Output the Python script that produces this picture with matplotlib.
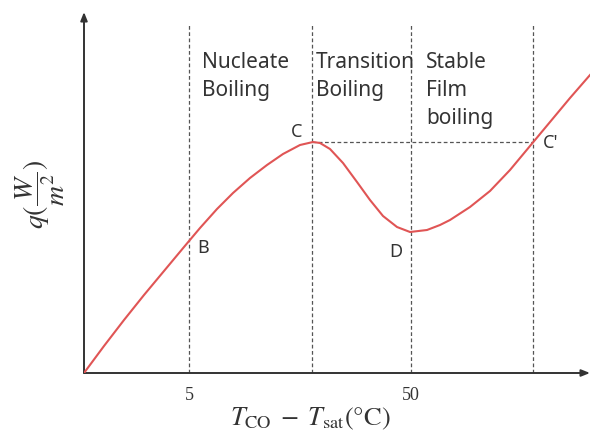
import numpy as np
import matplotlib
matplotlib.use('Agg')
import matplotlib.pyplot as plt

# Boiling curve (schematic), coordinates in plot units
curve_x = [0, 20, 40, 60, 80, 100, 116, 133, 149, 166, 183, 199, 216, 229, 236, 246,
           259, 273, 286, 299, 313, 326, 343, 356, 366, 386, 406, 426, 446, 466, 486, 506]
curve_y = [0, 27, 53, 78, 102, 126, 145, 164, 180, 195, 208, 219, 228, 231, 230, 224,
           210, 191, 173, 157, 146, 141, 143, 148, 153, 166, 182, 203, 227, 251, 275, 298]

# Region boundaries and the C-C' level
bounds_x = [105, 228, 327, 449]
c_level = 231

tick_pos = [105, 327]
tick_labels = ['5', '50']

regions = ['Nucleate\nBoiling', 'Transition\nBoiling', 'Stable\nFilm\nboiling']
region_x = [118, 232, 342]

points = ['B', 'C', 'D', "C'"]
points_xy = [(119, 125), (213, 241), (312, 121), (467, 230)]

plt.rcParams['font.family'] = ['Noto Sans', 'DejaVu Sans']
plt.rcParams['mathtext.fontset'] = 'stix'

fig = plt.figure(figsize=(5.9, 4.47), dpi=100)
ax = fig.add_axes([84 / 590, 74 / 447, 506 / 590, 361 / 447])
ax.set_xlim(0, 506)
ax.set_ylim(0, 361)
for s in ax.spines.values():
    s.set_visible(False)

dark = '#333333'
grey = '#555555'

# axes with arrow heads
ax.annotate('', xy=(0, 361), xytext=(0, 0), annotation_clip=False,
            arrowprops=dict(arrowstyle='-|>,head_length=0.5,head_width=0.2', color=dark, lw=1.4,
                            shrinkA=0, shrinkB=0))
ax.annotate('', xy=(506, 0), xytext=(0, 0), annotation_clip=False,
            arrowprops=dict(arrowstyle='-|>,head_length=0.5,head_width=0.2', color=dark, lw=1.4,
                            shrinkA=0, shrinkB=0))

# dashed guides
for bx in bounds_x:
    ax.plot([bx, bx], [0, 348], color=grey, lw=0.9, ls=(0, (3, 2)), zorder=1)
ax.plot([bounds_x[1], bounds_x[3]], [c_level, c_level], color=grey, lw=0.9, ls=(0, (3, 2)), zorder=1)

# boiling curve
ax.plot(curve_x, curve_y, color='#e05555', lw=1.5, solid_joinstyle='round', zorder=3)

for txt, rx in zip(regions, region_x):
    ax.text(rx, 321, txt, ha='left', va='top', fontsize=15, color=dark, linespacing=1.45)

for txt, (px, py) in zip(points, points_xy):
    ax.text(px, py, txt, ha='center', va='center', fontsize=13, color=dark)

ax.set_xticks(tick_pos, tick_labels)
ax.set_yticks([])
ax.tick_params(axis='x', length=0, pad=10, labelsize=13, labelcolor=dark)
for lab in ax.get_xticklabels():
    lab.set_fontfamily('Liberation Serif')

fig.text(310 / 590, 1 - 418 / 447, r'$T_{\mathrm{CO}}\;-\;T_{\mathrm{sat}}(\degree\mathrm{C})$',
         ha='center', va='center', fontsize=19, color=dark)
fig.text(40 / 590, 1 - 194 / 447, r'$q(\dfrac{W}{m^2})$', ha='center', va='center',
         rotation=90, fontsize=20, color=dark)

fig.savefig('out.png', dpi=100)
